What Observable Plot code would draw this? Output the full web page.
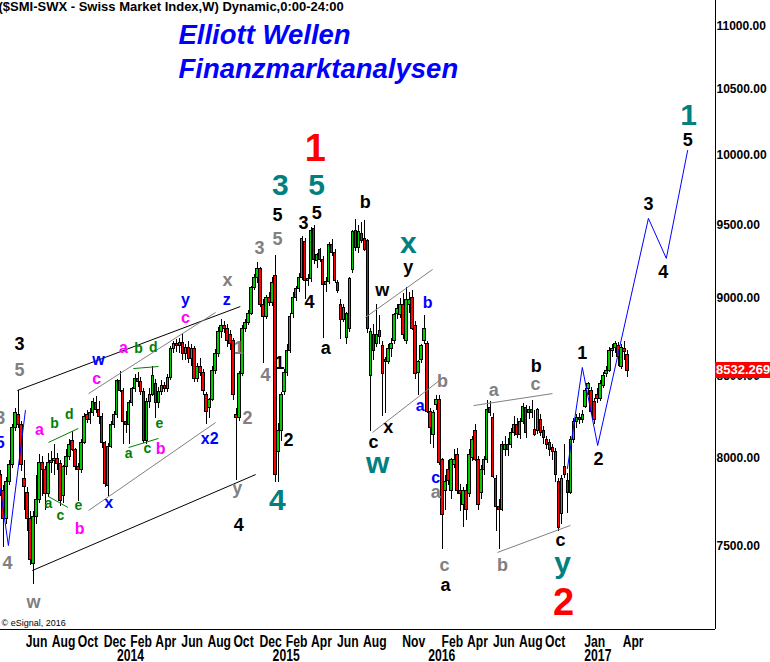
<!DOCTYPE html>
<html><head><meta charset="utf-8">
<script src="https://cdn.jsdelivr.net/npm/d3@7"></script>
<script src="https://cdn.jsdelivr.net/npm/@observablehq/plot@0.6"></script>
<style>
html,body{margin:0;padding:0;background:#fff;overflow:hidden;}
#chart{position:relative;width:770px;height:662px;}
#tag{position:absolute;left:715px;width:55px;height:16px;background:#ff0000;color:#fff;
  font:bold 13px "Liberation Sans",Arial,sans-serif;line-height:16px;padding-left:1px;
  overflow:hidden;white-space:nowrap;box-sizing:border-box;}
</style></head><body><div id="chart"></div>
<script>
// ---------- DATA ----------
const firstWeek = [2013, 3, 8]; // weekly bars starting Monday 8 Apr 2013
const open = [7900,7810,7650,7860,7960,8180,8260,8200,7880,7800,7650,7400,7660,7760,7975,7930,7790,7975,7985,7995,
7965,7780,7950,8010,8100,8050,7950,7930,8090,8260,8230,8270,8330,8290,8250,8090,7840,8070,8200,8260,
8470,8410,8220,8200,8330,8420,8480,8460,8400,8100,8340,8380,8450,8330,8400,8440,8420,8490,8670,8700,
8690,8710,8640,8680,8610,8670,8480,8560,8520,8380,8300,8350,8530,8640,8780,8820,8800,8760,8720,8260,
8240,8510,8800,8840,8900,9070,9140,9200,8960,8880,9000,8970,9150,8040,8160,8400,8520,8660,8900,9000,
9060,9140,9380,9120,9130,9470,9250,9330,9260,9090,9110,9360,9310,9100,8960,8860,8740,8800,9190,9460,
9340,9440,9400,9390,8500,8760,8700,8790,8690,8600,8590,8670,8720,8900,8890,8960,8720,8960,9000,8820,
8520,8600,8720,8700,8280,8140,8320,8350,7990,7810,7930,7810,7960,8020,7810,7730,7810,7790,8000,8160,
7990,7800,7930,7990,8300,8240,7880,7720,7700,8050,8080,8080,8150,8200,8140,8220,8300,8270,8290,8170,
8160,8230,8160,8110,8090,8060,8040,7860,7680,7950,7870,7800,8110,8220,8240,8230,8310,8420,8410,8340,
8380,8360,8440,8510,8530,8660,8680,8690,8560,8670,8630];
const high = [7930,7840,7890,7990,8200,8300,8410,8220,7990,7830,7690,7690,7900,8020,8010,7950,8030,8040,8080,8030,
7990,7960,8050,8110,8160,8060,7970,8110,8270,8290,8300,8360,8370,8340,8270,8100,8090,8220,8280,8480,
8530,8420,8280,8350,8430,8510,8520,8490,8420,8360,8420,8560,8480,8430,8470,8460,8510,8690,8720,8730,
8740,8770,8700,8720,8700,8690,8580,8610,8540,8400,8360,8560,8670,8810,8860,8850,8830,8790,8740,8300,
8530,8820,8860,8920,9080,9160,9240,9210,8990,9020,9040,9140,9290,8210,8400,8540,8700,8900,9040,9080,
9170,9420,9410,9160,9480,9500,9300,9340,9280,9140,9380,9400,9330,9120,8990,8960,8910,9140,9460,9540,
9500,9520,9530,9400,8800,8830,8960,8890,8720,8620,8700,8740,8900,8960,9000,9030,9070,9040,9050,8850,
8600,8700,8890,8720,8300,8290,8380,8380,8000,7900,7990,8000,8050,8060,7850,7830,7850,8050,8130,8200,
8010,7960,8010,8350,8340,8270,7900,7760,8100,8130,8120,8180,8250,8240,8240,8330,8320,8310,8350,8290,
8300,8260,8190,8130,8110,8080,8060,7880,7900,8080,7910,8130,8240,8260,8270,8290,8420,8460,8430,8360,
8420,8470,8520,8560,8680,8700,8720,8710,8700,8720,8660];
const low = [7780,7490,7620,7840,7940,8160,8180,7920,7700,7580,7390,7290,7620,7740,7780,7700,7770,7910,7900,7930,
7720,7740,7900,7990,8040,7930,7750,7910,8080,8210,8200,8250,8270,8200,8060,7830,7780,8060,8180,8240,
8400,8080,8150,8080,8310,8400,8430,8380,8090,8080,8300,8370,8240,8300,8380,8400,8400,8470,8640,8650,
8640,8600,8600,8580,8560,8460,8460,8500,8380,8200,8240,8340,8510,8620,8740,8770,8680,8660,8350,7870,
8220,8500,8780,8820,8890,9050,9100,8940,8580,8860,8950,8950,7860,7860,8100,8380,8500,8640,8870,8980,
9040,9120,8990,9080,9110,9230,9200,9240,8740,9040,9090,9280,9100,9030,8730,8840,8700,8780,9170,9320,
9300,9370,9320,8770,8160,8600,8680,8700,8250,8270,8570,8620,8700,8860,8870,8730,8700,8900,8790,8480,
8380,8580,8700,8270,8080,8060,8290,7960,7480,7700,7840,7760,7940,7790,7690,7600,7640,7770,7980,7980,
7700,7760,7900,7970,8250,7880,7580,7480,7690,8010,8010,8060,8130,8120,8110,8200,8120,8230,8240,8130,
8140,8130,8080,8050,8010,7990,7860,7580,7620,7880,7680,7790,8090,8180,8200,8210,8300,8380,8260,8200,
8330,8340,8420,8490,8520,8620,8640,8560,8540,8600,8490];
const close = [7810,7650,7860,7960,8180,8270,8200,7960,7830,7650,7420,7660,7760,7975,7930,7790,7970,7985,7995,7965,
7755,7950,8010,8080,8050,7950,7930,8090,8250,8230,8270,8340,8290,8250,8090,7850,8070,8200,8260,8470,
8410,8220,8200,8330,8420,8480,8460,8400,8100,8340,8380,8500,8330,8400,8440,8420,8490,8670,8700,8690,
8710,8640,8680,8610,8670,8480,8560,8520,8410,8280,8350,8530,8640,8780,8820,8800,8720,8700,8380,8240,
8510,8800,8840,8900,9070,9140,9200,8960,8880,9000,8970,9100,7900,8160,8380,8520,8660,8880,9000,9060,
9140,9400,9120,9130,9460,9256,9290,9260,9090,9110,9360,9310,9120,9050,8860,8940,8900,9130,9450,9340,
9450,9390,9330,8800,8780,8660,8760,8750,8510,8590,8670,8700,8890,8930,8960,8760,8990,8990,8800,8510,
8590,8690,8800,8280,8180,8270,8350,7970,7670,7860,7870,7990,7990,7810,7790,7810,7700,8020,8110,7990,
7730,7930,7990,8290,8270,7890,7720,7700,8080,8080,8050,8150,8200,8140,8220,8310,8150,8290,8270,8140,
8290,8150,8120,8080,8050,8040,7900,7600,7880,7900,7800,8110,8220,8240,8230,8260,8410,8450,8280,8230,
8360,8450,8500,8530,8660,8670,8700,8620,8680,8650,8532.269];

const priceTicks = [7500, 8000, 8500, 9000, 9500, 10000, 10500, 11000];
const monthTicks = ["2013-06-01","2013-08-01","2013-10-01","2013-12-01","2014-02-01","2014-04-01","2014-06-01","2014-08-01","2014-10-01","2014-12-01","2015-02-01","2015-04-01","2015-06-01","2015-08-01","2015-11-01","2016-02-01","2016-04-01","2016-06-01","2016-08-01","2016-10-01","2017-01-01","2017-04-01"];
const monthLabels = ["Jun","Aug","Oct","Dec","Feb","Apr","Jun","Aug","Oct","Dec","Feb","Apr","Jun","Aug","Nov","Feb","Apr","Jun","Aug","Oct","Jan","Apr"];
const yearTicks = ["2014-01-01","2015-01-01","2016-01-01","2017-01-01"];
const yearLabels = ["2014","2015","2016","2017"];

// wave labels: [text, date, price]
const labelsBlack = [["3","2013-05-22",8700],["4","2014-10-18",7614],["5","2015-01-17",9568],["3","2015-03-19",9512],["5","2015-04-19",9582],["4","2015-04-02",8974],["a","2015-05-10",8674],["1","2015-01-22",8579],["2","2015-02-12",8106],["b","2015-08-11",9660],["w","2015-09-20",9053],["y","2015-11-20",9208],["x","2015-10-04",8184],["c","2015-08-30",8094],["a","2016-02-15",7284],["b","2016-09-15",8560],["c","2016-11-11",7530],["1","2017-01-01",8643],["2","2017-02-08",7993],["3","2017-06-05",9646],["4","2017-07-10",9174],["5","2017-09-05",10111]];
const labelsGray = [["5","2013-05-22",8535],["3","2013-04-07",8238],["4","2013-04-24",7404],["w","2013-06-24",7194],["2","2014-11-08",8238],["y","2014-10-15",7824],["1","2014-10-18",8674],["x","2014-09-22",9120],["3","2014-12-06",9338],["5","2015-01-17",9400],["4","2014-12-20",8503],["b","2016-02-08",8466],["a","2016-01-23",7801],["c","2016-02-13",7393],["a","2016-06-07",8410],["c","2016-09-13",8447],["b","2016-06-28",7393]];
const labelsBlue = [["5","2013-04-07",8094],["w","2013-11-23",8604],["x","2013-12-17",7744],["x2","2014-08-11",8118],["y","2014-06-15",8994],["z","2014-09-20",8994],["b","2016-01-04",8974],["a","2015-12-18",8317],["c","2016-01-23",7888]];
const labelsMagenta = [["c","2013-11-19",8485],["a","2014-01-21",8680],["a","2013-07-08",8172],["b","2013-10-10",7597],["b","2014-04-18",8058],["c","2014-06-15",8875]];
const labelsGreen = [["b","2014-02-25",8674],["d","2014-04-01",8680],["b","2013-08-12",8208],["d","2013-09-16",8262],["a","2013-07-29",7738],["c","2013-08-26",7670],["e","2013-10-07",7726],["a","2014-02-02",8028],["c","2014-03-18",8058],["e","2014-04-15",8208]];
const labelsTeal = [["3","2015-01-24",9781],["5","2015-04-19",9781],["4","2015-01-17",7755],["x","2015-11-20",9372],["w","2015-09-09",7969],["y","2016-11-16",7404],["1","2017-09-07",10300]];
const labelsRed = [["1","2015-04-16",10052],["2","2016-11-18",7194]];

// trend lines: [date1, price1, date2, price2]
const trendBlack = [["2013-05-17",8410,"2014-10-22",8947],["2013-06-21",7365,"2014-11-27",7905]];
const trendGray = [["2013-10-31",8391,"2014-08-25",8908],["2013-10-31",7698,"2014-08-25",8214],["2015-08-11",8875,"2016-01-16",9195],["2015-08-28",8154,"2016-02-10",8491],["2016-04-21",8317,"2016-10-23",8391],["2016-06-16",7464,"2016-12-04",7614]];
const trendGreen = [["2013-07-29",8094,"2013-10-07",8178],["2013-07-29",7778,"2013-09-13",7715],["2014-02-13",8547,"2014-04-13",8560],["2014-02-02",8064,"2014-04-13",8118]];
// blue wave paths: [date, price]
const pathBlueLeft = [["2013-04-07",7824],["2013-04-26",7502],["2013-06-05",8287]];
const pathBlueRight = [["2016-11-27",7940],["2017-01-01",8554],["2017-02-06",8076],["2017-06-05",9547],["2017-07-17",9270],["2017-09-05",10037]];

const headerText = "($SMI-SWX - Swiss Market Index,W) Dynamic,0:00-24:00";
const titleLines = ["Elliott Wellen", "Finanzmarktanalysen"];
const copyright = "© eSignal, 2016";

// ---------- BUILD ----------
const DAY = 864e5;
const candles = open.map((o, i) => ({
  date: new Date(Date.UTC(firstWeek[0], firstWeek[1], firstWeek[2] + 7 * i)),
  open: o, high: high[i], low: low[i], close: close[i]
}));
const xDomain = [new Date(Date.UTC(2013, 3, 7, 12)), new Date(Date.UTC(2017, 10, 9, 8))];
const yDomain = [7052, 11210];
const SANS = "Liberation Sans, Arial, Helvetica, sans-serif";
const pd = s => new Date(s + "T00:00:00Z");

function labels(arr, color, size, extra = {}) {
  return Plot.text(arr, {x: d => pd(d[1]), y: d => d[2], text: d => d[0], fill: color,
    fontSize: size, fontWeight: "bold", fontFamily: SANS, textAnchor: "middle", lineAnchor: "middle", ...extra});
}
function links(arr, color) {
  return Plot.link(arr, {x1: d => pd(d[0]), y1: d => d[1], x2: d => pd(d[2]), y2: d => d[3], stroke: color, strokeWidth: 1});
}
const lastClose = close[close.length - 1];

const chart = Plot.plot({
  width: 770, height: 662,
  marginLeft: 0, marginRight: 55, marginTop: 0, marginBottom: 33,
  style: {background: "#fff", fontFamily: SANS, overflow: "hidden"},
  x: {type: "utc", domain: xDomain, axis: null},
  y: {type: "log", domain: yDomain, axis: null},
  marks: [
    Plot.ruleX(candles, {x: "date", y1: "low", y2: "high", stroke: "#000", strokeWidth: 1, shapeRendering: "crispEdges"}),
    Plot.rect(candles, {
      x1: d => new Date(+d.date - 2.9 * DAY), x2: d => new Date(+d.date + 2.9 * DAY),
      y1: d => Math.min(d.open, d.close), y2: d => Math.max(d.open, d.close),
      fill: d => d.close >= d.open ? "#00cc00" : "#ff0000", stroke: "#000", strokeWidth: 1, shapeRendering: "crispEdges"
    }),
    links(trendBlack, "#000"),
    links(trendGray, "#808080"),
    links(trendGreen, "#008000"),
    Plot.line(pathBlueLeft, {x: d => pd(d[0]), y: d => d[1], stroke: "#0000ff", strokeWidth: 1}),
    Plot.line(pathBlueRight, {x: d => pd(d[0]), y: d => d[1], stroke: "#0000ff", strokeWidth: 1}),
    labels(labelsGreen, "#008000", 14),
    labels(labelsMagenta, "#ff00ff", 16),
    labels(labelsBlue, "#0000ff", 16),
    labels(labelsGray, "#808080", 18),
    labels(labelsBlack, "#000", 18),
    labels(labelsTeal, "#008080", 30),
    labels(labelsRed, "#ff0000", 38),
    Plot.ruleX([xDomain[1]], {stroke: "#000", strokeWidth: 1}),
    Plot.ruleY([yDomain[0]], {stroke: "#000", strokeWidth: 1}),
    Plot.axisY({anchor: "right", ticks: priceTicks, tickFormat: d => d.toFixed(2), tickSize: 0, tickPadding: 1,
      fontSize: 12, fontWeight: "bold", fontFamily: SANS, fill: "#000", label: null}),
    Plot.text(monthTicks.map((m, i) => ({date: pd(m), label: monthLabels[i]})), {x: "date", text: "label",
      frameAnchor: "bottom", dy: 12, dx: 2, textAnchor: "start", lineAnchor: "middle",
      fontSize: 16, fontWeight: "bold", fontFamily: SANS, fill: "#000"}),
    Plot.text(yearTicks.map((m, i) => ({date: pd(m), label: yearLabels[i]})), {x: "date", text: "label",
      frameAnchor: "bottom", dy: 26, dx: 2, textAnchor: "start", lineAnchor: "middle",
      fontSize: 16, fontWeight: "bold", fontFamily: SANS, fill: "#000"}),
    Plot.text([headerText], {frameAnchor: "top-left", dx: -2, dy: 1, textAnchor: "start", lineAnchor: "top",
      fontSize: 13, fontWeight: "bold", fontFamily: SANS, fill: "#000"}),
    Plot.text([titleLines[0]], {frameAnchor: "top-left", dx: 178, dy: 24, textAnchor: "start", lineAnchor: "top",
      fontSize: 27.5, fontWeight: "bold", fontStyle: "italic", fontFamily: SANS, fill: "#0000ff"}),
    Plot.text([titleLines[1]], {frameAnchor: "top-left", dx: 178, dy: 58, textAnchor: "start", lineAnchor: "top",
      fontSize: 27.5, fontWeight: "bold", fontStyle: "italic", fontFamily: SANS, fill: "#0000ff"}),
    Plot.text([copyright], {frameAnchor: "bottom-left", dx: 1, dy: -4, textAnchor: "start", lineAnchor: "bottom",
      fontSize: 9, fontFamily: SANS, fill: "#000"})
  ]
});
const host = document.getElementById("chart");
host.appendChild(chart);

// narrow look for the time-axis labels: compress glyphs horizontally
const axisWords = new Set([...monthLabels, ...yearLabels]);
const ctx = document.createElement("canvas").getContext("2d");
ctx.font = "bold 16px 'Liberation Sans', Arial, sans-serif";
for (const t of chart.querySelectorAll("text")) {
  const s = t.textContent;
  if (axisWords.has(s)) {
    const w = ctx.measureText(s).width;
    if (w > 0) {
      t.setAttribute("textLength", (w * 0.76).toFixed(1));
      t.setAttribute("lengthAdjust", "spacingAndGlyphs");
    }
  }
}

// last-price tag on the right axis, positioned with the plot's y scale
const tag = document.createElement("div");
tag.id = "tag";
tag.textContent = lastClose.toFixed(3);
tag.style.top = (chart.scale("y").apply(lastClose) - 8) + "px";
host.appendChild(tag);
</script>
</body></html>
